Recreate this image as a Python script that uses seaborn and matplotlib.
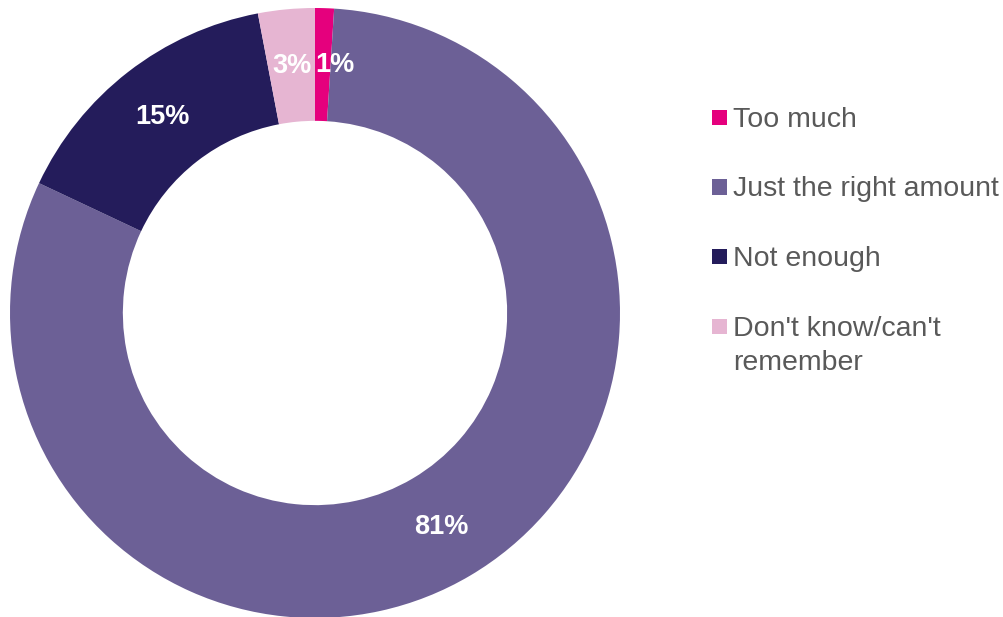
import matplotlib
matplotlib.use("Agg")
import matplotlib.pyplot as plt
import matplotlib.transforms as mtransforms
from matplotlib.patches import Rectangle
import numpy as np
import seaborn as sns

# Survey responses
categories = ["Too much", "Just the right amount", "Not enough", "Don't know/can't\nremember"]
shares = [1, 81, 15, 3]
value_labels = ["1%", "81%", "15%", "3%"]
colors = ["#E5007D", "#6C6096", "#241C5B", "#E6B5D2"]

sns.set_theme(style="white")
plt.rcParams["font.family"] = ["Liberation Sans", "DejaVu Sans"]

W, H = 1004, 617
fig = plt.figure(figsize=(W / 100, H / 100), dpi=100)
ax = fig.add_axes([10 / W, -1 / H, 610 / W, 610 / H])

ring_width = 0.37
wedges, _ = ax.pie(
    shares,
    colors=colors,
    startangle=90,
    counterclock=False,
    radius=1.0,
    wedgeprops=dict(width=ring_width, edgecolor="none", linewidth=0),
)

# value labels centred in the ring
label_r = 1.0 - ring_width / 2
for w, txt in zip(wedges, value_labels):
    mid = np.deg2rad((w.theta1 + w.theta2) / 2)
    x, y = label_r * np.cos(mid), label_r * np.sin(mid)
    t = ax.text(x, y, txt, ha="center", va="center", color="white",
                fontsize=19.5, fontweight="bold")
    if txt == "1%":
        t.set_transform(ax.transData + mtransforms.ScaledTranslation(0.12, 0, fig.dpi_scale_trans))

ax.set_xlim(-1, 1)
ax.set_ylim(-1, 1)
ax.set_aspect("equal")
ax.axis("off")

# legend: square swatch beside each label, swatch level with the first line
row_top = 127          # baseline of the first row, pixels from top
row_step = 69.5
line_step = 34
swatch = 15
for i, (c, lab) in enumerate(zip(colors, categories)):
    base = row_top + i * row_step
    fig.patches.append(Rectangle((712 / W, 1 - (base - 2) / H), swatch / W, swatch / H,
                                 transform=fig.transFigure, facecolor=c,
                                 edgecolor="none"))
    lines = lab.split("\n")
    for j, line in enumerate(lines):
        fig.text(733 / W, 1 - (base + j * line_step) / H, line, ha="left",
                 va="baseline", fontsize=20.5, color="#595959")

fig.savefig("out.png", dpi=100)
